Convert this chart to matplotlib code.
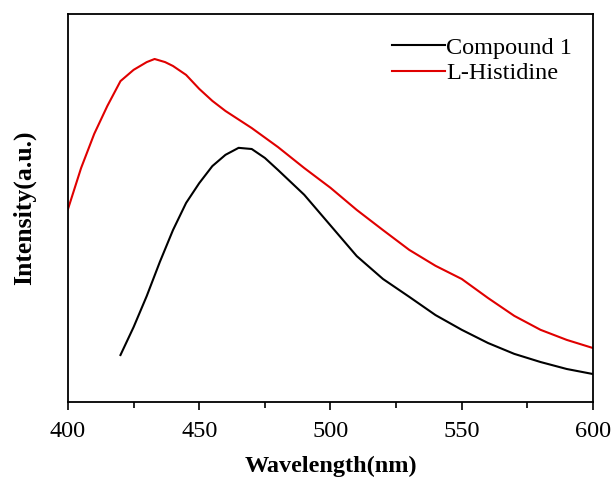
import matplotlib
matplotlib.use("Agg")
import matplotlib.pyplot as plt
from matplotlib.ticker import MultipleLocator

# Emission spectra (intensity in arbitrary units)
wl_histidine = [400, 405, 410, 415, 420, 425, 430, 433, 437, 440, 445, 450, 455,
                460, 470, 480, 490, 500, 510, 520, 530, 540, 550, 560, 570, 580,
                590, 600]
int_histidine = [49.7, 60.3, 69.1, 76.3, 82.7, 85.6, 87.6, 88.4, 87.6, 86.6, 84.3,
                 80.7, 77.6, 75.0, 70.6, 65.7, 60.3, 55.2, 49.5, 44.3, 39.2, 35.1,
                 31.7, 26.8, 22.2, 18.6, 16.0, 13.9]

wl_compound = [420, 425, 430, 435, 440, 445, 450, 455, 460, 465, 470, 475, 480,
               490, 500, 510, 520, 530, 540, 550, 560, 570, 580, 590, 600]
int_compound = [12.1, 19.3, 27.3, 36.1, 44.3, 51.3, 56.4, 60.8, 63.7, 65.5, 65.2,
                62.9, 59.8, 53.4, 45.5, 37.6, 31.7, 27.1, 22.4, 18.6, 15.2, 12.4,
                10.3, 8.5, 7.2]

plt.rcParams['font.family'] = ['Liberation Serif', 'DejaVu Serif']

fig = plt.figure(figsize=(6.14, 4.79), dpi=100)
ax = fig.add_axes([0.1107, 0.1608, 0.8551, 0.81])

ax.plot(wl_compound, int_compound, color='black', lw=1.5, label='Compound 1')
ax.plot(wl_histidine, int_histidine, color='#e00000', lw=1.5, label='L-Histidine')

ax.set_xlim(400, 600)
ax.set_ylim(0, 100)
ax.xaxis.set_major_locator(MultipleLocator(50))
ax.xaxis.set_minor_locator(MultipleLocator(25))
ax.set_yticks([])
ax.tick_params(axis='x', which='major', direction='out', length=6, width=1.2,
               labelsize=17.5, pad=7.5, top=False)
ax.tick_params(axis='x', which='minor', direction='out', length=4, width=1.2, top=False)
for s in ax.spines.values():
    s.set_linewidth(1.3)

ax.set_xlabel('Wavelength(nm)', fontsize=17.5, fontweight='bold', labelpad=10)
ax.set_ylabel('Intensity(a.u.)', fontsize=18.5, fontweight='bold', labelpad=23)

ax.legend(loc='upper right', frameon=False, fontsize=17.5, handlelength=2.2,
          handletextpad=0.05, labelspacing=0.15, borderaxespad=0.3,
          bbox_to_anchor=(0.993, 0.985))

fig.savefig('out.png', dpi=100)
